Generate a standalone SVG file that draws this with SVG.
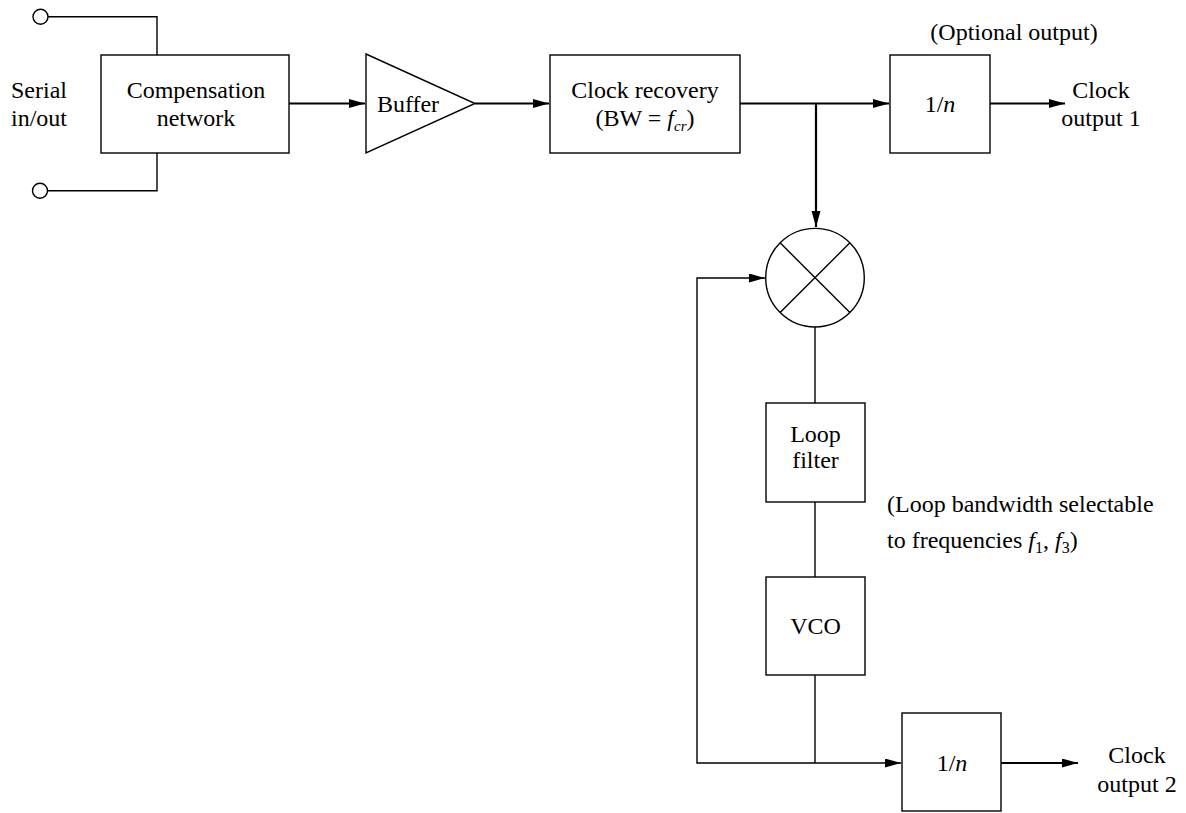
<svg xmlns="http://www.w3.org/2000/svg" width="1186" height="813" viewBox="0 0 1186 813">
<style>
text{font-family:"Liberation Serif","Times New Roman",serif;font-size:24px;fill:#000}
.m{text-anchor:middle}
.i{font-style:italic}
.box{fill:#fff;stroke:#000;stroke-width:1.4}
.thin{fill:none;stroke:#000;stroke-width:1.4}
.thick{fill:none;stroke:#000;stroke-width:2.2}
</style>
<defs>
<marker id="arr" markerUnits="userSpaceOnUse" markerWidth="17" markerHeight="10" refX="16" refY="4.5" orient="auto">
<path d="M0,0 L16,4.5 L0,9 z" fill="#000"/>
</marker>
</defs>
<rect width="1186" height="813" fill="#fff"/>
<g id="connectors">
<path class="thin" d="M48,16.7 H157 V55"/>
<path class="thin" d="M47,190.7 H157 V153"/>
<path class="thick" d="M289,103.5 H365" marker-end="url(#arr)"/>
<path class="thick" d="M475,103.5 H549" marker-end="url(#arr)"/>
<path class="thick" d="M740,103.5 H889" marker-end="url(#arr)"/>
<path class="thick" d="M816,103.5 V227" marker-end="url(#arr)"/>
<path class="thick" d="M990,103.5 H1065" marker-end="url(#arr)"/>
<path class="thin" d="M815,327 V403"/>
<path class="thin" d="M815,502 V577"/>
<path class="thin" d="M815,675 V763"/>
<path class="thin" d="M815,763 H697 V278 H765" marker-end="url(#arr)"/>
<path class="thin" d="M815,763 H901" marker-end="url(#arr)"/>
<path class="thick" d="M1001,763 H1078" marker-end="url(#arr)"/>
</g>
<g id="terminal-top"><circle class="thin" cx="40.5" cy="16.7" r="7.5"/></g>
<g id="terminal-bottom"><circle class="thin" cx="40" cy="190.7" r="7.5"/></g>
<g id="serial-label">
<text class="m" x="39" y="98">Serial</text>
<text class="m" x="39" y="126">in/out</text>
</g>
<g id="compensation">
<rect class="box" x="101" y="55" width="188" height="98"/>
<text class="m" x="196" y="98">Compensation</text>
<text class="m" x="196" y="126">network</text>
</g>
<g id="buffer">
<path class="box" d="M366,54 L475,103.5 L366,153 z"/>
<text class="m" x="408" y="112">Buffer</text>
</g>
<g id="clock-recovery">
<rect class="box" x="550" y="55" width="190" height="98"/>
<text class="m" x="645" y="98">Clock recovery</text>
<text class="m" x="645" y="126">(BW = <tspan class="i">f</tspan><tspan class="i" font-size="15" dy="5">cr</tspan><tspan dy="-5">)</tspan></text>
</g>
<g id="divider1">
<text class="m" x="1014" y="40">(Optional output)</text>
<rect class="box" x="890" y="55" width="100" height="98"/>
<text class="m" x="940" y="112">1/<tspan class="i">n</tspan></text>
</g>
<g id="clock-output1">
<text class="m" x="1101" y="98">Clock</text>
<text class="m" x="1101" y="126">output 1</text>
</g>
<g id="mixer">
<circle class="box" cx="815" cy="277.7" r="49.3"/>
<path class="thin" d="M780.1,242.8 L849.9,312.6 M849.9,242.8 L780.1,312.6"/>
</g>
<g id="loop-filter">
<rect class="box" x="766" y="403" width="99" height="99"/>
<text class="m" x="815.5" y="442">Loop</text>
<text class="m" x="815.5" y="468">filter</text>
</g>
<g id="loop-note">
<text x="887" y="512">(Loop bandwidth selectable</text>
<text x="887" y="548">to frequencies <tspan class="i">f</tspan><tspan font-size="16" dy="5">1</tspan><tspan dy="-5">, </tspan><tspan class="i">f</tspan><tspan font-size="16" dy="5">3</tspan><tspan dy="-5">)</tspan></text>
</g>
<g id="vco">
<rect class="box" x="766" y="577" width="99" height="98"/>
<text class="m" x="815.5" y="634">VCO</text>
</g>
<g id="divider2">
<rect class="box" x="902" y="713" width="99" height="98"/>
<text class="m" x="952" y="771">1/<tspan class="i">n</tspan></text>
</g>
<g id="clock-output2">
<text class="m" x="1137" y="763">Clock</text>
<text class="m" x="1137" y="792">output 2</text>
</g>
</svg>
